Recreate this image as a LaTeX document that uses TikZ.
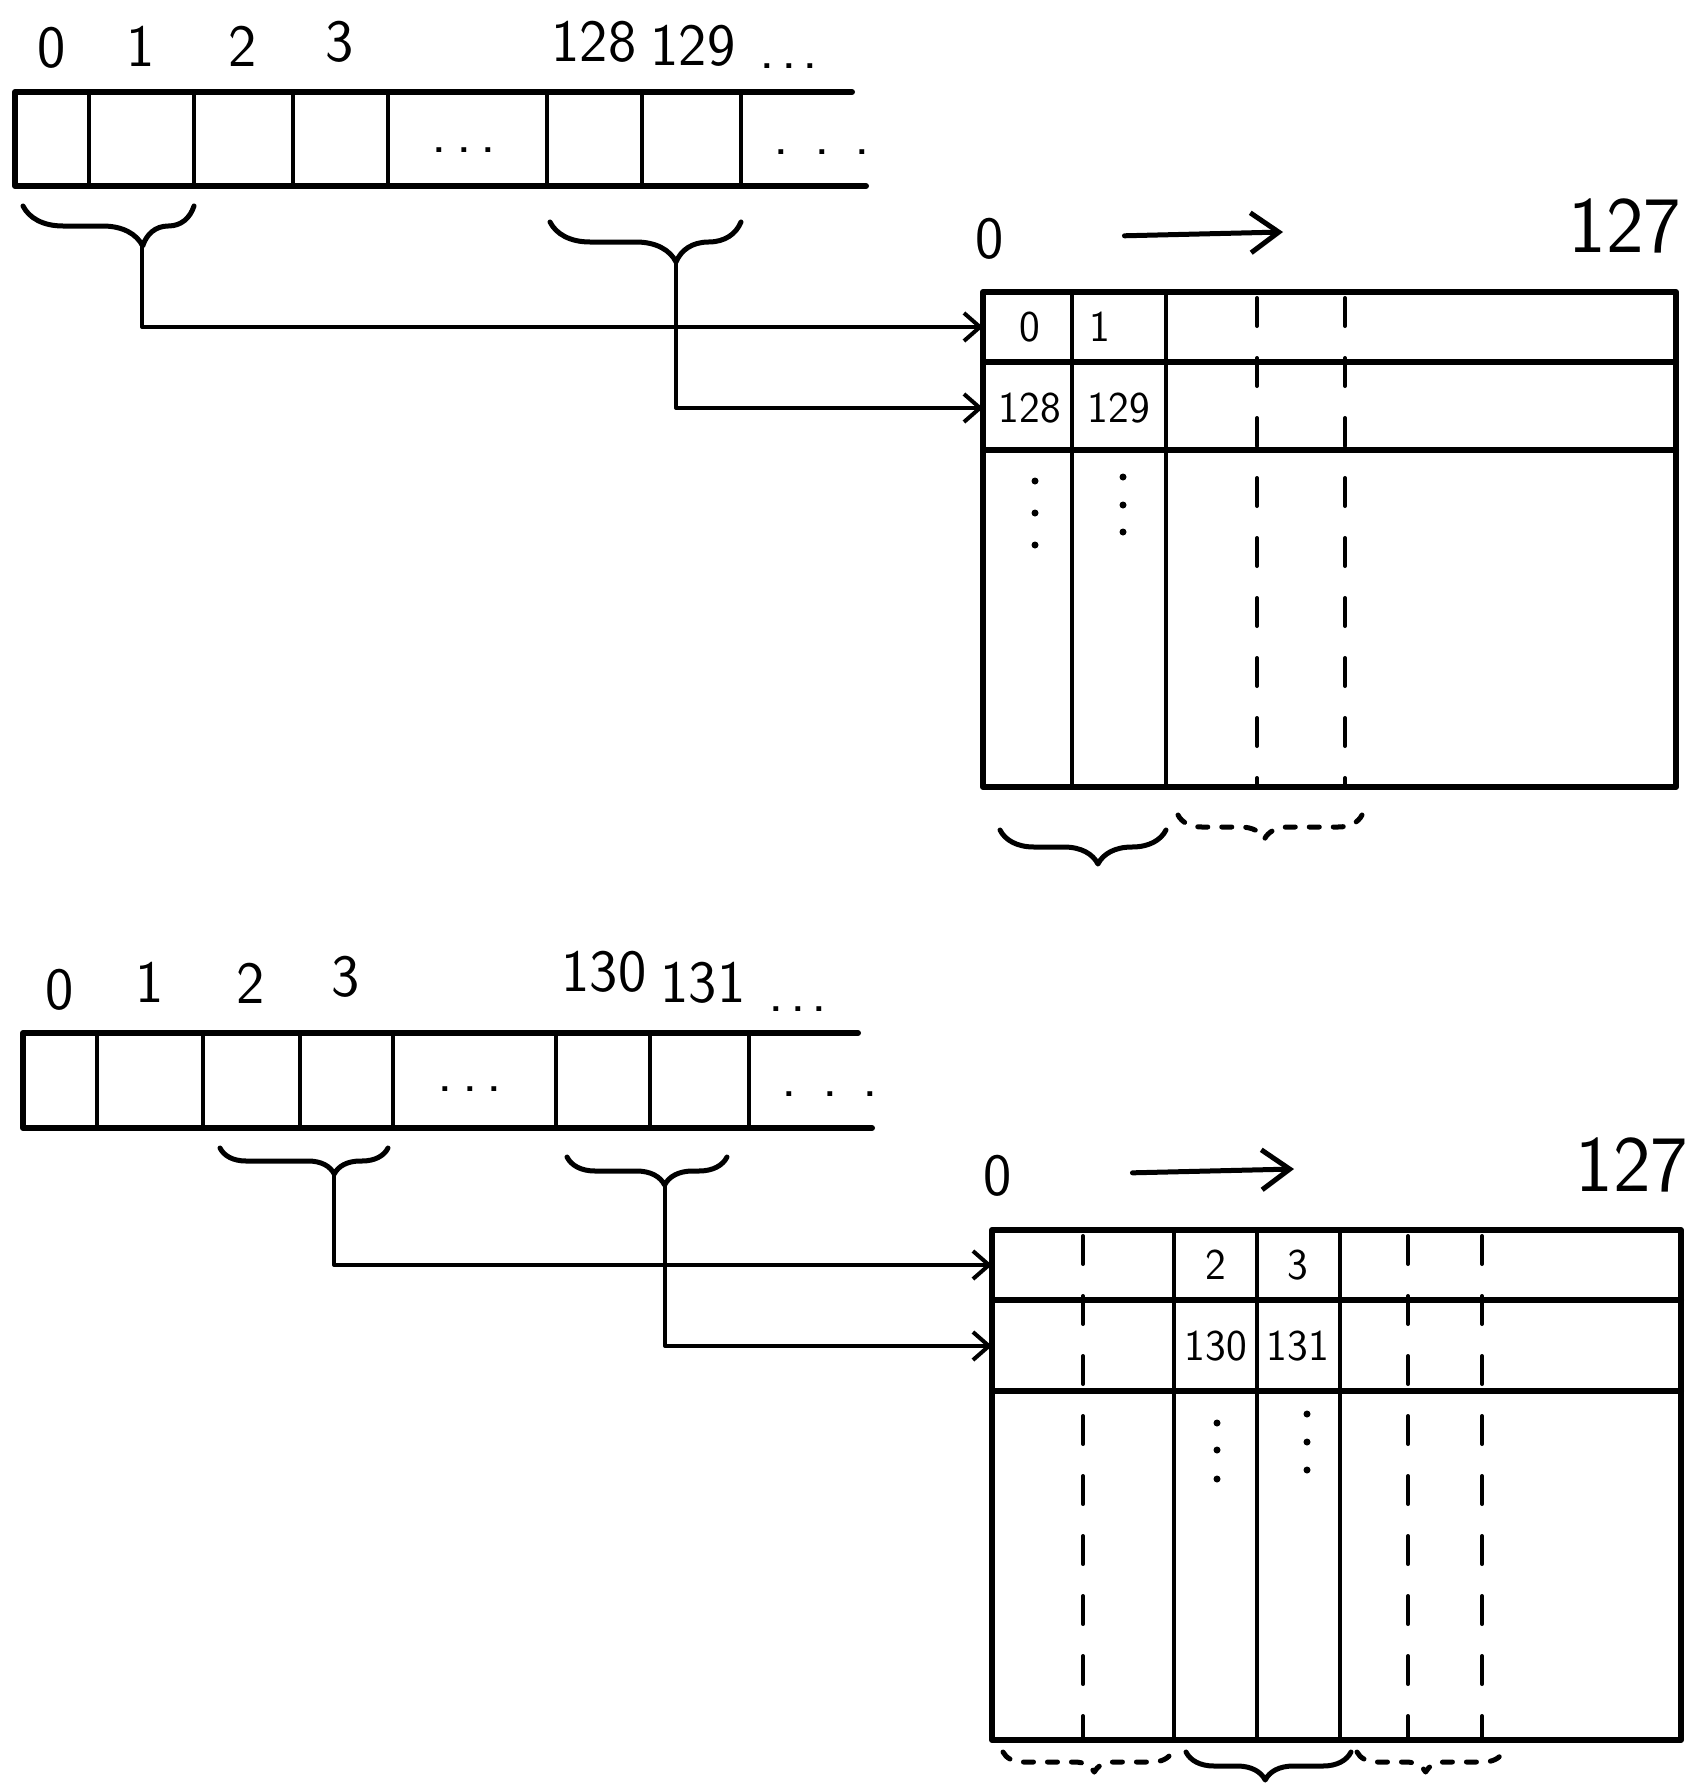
\documentclass[tikz,border=0pt]{standalone}
\usetikzlibrary{arrows.meta,decorations.pathreplacing}
\tikzset{
  frame/.style={line width=3pt},
  divider/.style={line width=2pt},
  rowline/.style={line width=3pt},
  dashcol/.style={line width=2pt, dash pattern=on 14pt off 16pt},
  link/.style={line width=2pt, -{Straight Barb[length=8pt,width=14pt,line width=2pt]}},
  flow/.style={line width=2.5pt, -{Straight Barb[length=14pt,width=20pt,line width=2.5pt]}},
  brc/.style 2 args={line width=2.5pt, decorate, decoration={brace, mirror, amplitude=#1, aspect=#2}},
  dashbrc/.style={dash pattern=on 5pt off 7pt},
  idx/.style={font=\sffamily\fontsize{30}{32}\selectfont, inner sep=0pt},
  cellnum/.style={font=\sffamily\fontsize{22}{24}\selectfont, inner sep=0pt},
  endnum/.style={font=\sffamily\fontsize{40}{42}\selectfont, inner sep=0pt},
}
% three spread dots, #1 = gap between them
\newcommand\spreaddots[1]{.\kern#1.\kern#1.}
\begin{document}
\begin{tikzpicture}[x=0.5pt, y=-0.5pt, line cap=round, line join=round]
% sketch measured in pixels, y going down
\def\dotr{3.5}
\useasboundingbox (0,0) rectangle (1702,1788);

% ---------- first strip of cells ----------
\draw[frame] (852,92) -- (15,92) -- (15,186) -- (866,186);
\draw[divider] (89,92) -- (89,186);
\draw[divider] (194,92) -- (194,186);
\draw[divider] (293,92) -- (293,186);
\draw[divider] (388,92) -- (388,186);
\draw[divider] (547,92) -- (547,186);
\draw[divider] (642,92) -- (642,186);
\draw[divider] (741,92) -- (741,186);
\node[idx] (a0) at (52,48) {0};
\node[idx] (a1) at (141,46) {1};
\node[idx] (a2) at (243,46) {2};
\node[idx] (a3) at (340,42) {3};
\node[idx] (a128) at (594,42) {128};
\node[idx] (a129) at (693,46) {129};
\node[idx] (amore) at (789,66) {\spreaddots{3pt}};
\node[idx] (amid) at (464,150) {\spreaddots{4.5pt}};
\node[idx] (aend) at (822,152) {\spreaddots{12.5pt}};
% braces under the strip
\draw[brc={20pt}{0.7}] (23,206) -- (194,206);
\draw[brc={20pt}{0.66}] (550,222) -- (741,222);
\coordinate (tipA) at (142,246);
\coordinate (tipB) at (676,262);

% ---------- first table ----------
\node[idx] (z1) at (990,239) {0};
\coordinate (d1) at (1283,232);
\node[endnum] (n1) at (1625,226) {127};
\draw[flow, shorten <=60pt] (z1) -- (d1);
\draw[frame] (983,292) rectangle (1676,787);
\draw[rowline] (983,362) -- (1676,362);
\draw[rowline] (983,450) -- (1676,450);
\draw[divider] (1072,292) -- (1072,787);
\draw[divider] (1166,292) -- (1166,787);
\draw[dashcol] (1257,298) -- (1257,787);
\draw[dashcol] (1345,298) -- (1345,787);
\node[cellnum] (c0) at (1030,327) {0};
\node[cellnum] (c1) at (1100,327) {1};
\node[cellnum] (c128) at (1030,408) {128};
\node[cellnum] (c129) at (1119,408) {129};
\fill (1035,481) circle (\dotr);
\fill (1035,513) circle (\dotr);
\fill (1035,545) circle (\dotr);
\fill (1123,477) circle (\dotr);
\fill (1123,505) circle (\dotr);
\fill (1123,532) circle (\dotr);
\coordinate (t1r0) at (983,327);
\coordinate (t1r1) at (983,408);
% braces under the first table
\draw[brc={17pt}{0.59}] (1000,830) -- (1166,830);
\draw[brc={12pt}{0.47}, dashbrc] (1178,815) -- (1362,815);

% strip to table
\draw[link] (tipA) |- (t1r0);
\draw[link] (tipB) |- (t1r1);

% ---------- second strip of cells ----------
\draw[frame] (858,1033) -- (23,1033) -- (23,1128) -- (872,1128);
\draw[divider] (97,1033) -- (97,1128);
\draw[divider] (203,1033) -- (203,1128);
\draw[divider] (300,1033) -- (300,1128);
\draw[divider] (393,1033) -- (393,1128);
\draw[divider] (556,1033) -- (556,1128);
\draw[divider] (650,1033) -- (650,1128);
\draw[divider] (749,1033) -- (749,1128);
\node[idx] (b0) at (60,990) {0};
\node[idx] (b1) at (150,982) {1};
\node[idx] (b2) at (251,983) {2};
\node[idx] (b3) at (346,977) {3};
\node[idx] (b130) at (604,972) {130};
\node[idx] (b131) at (703,983) {131};
\node[idx] (bmore) at (798,1009) {\spreaddots{3pt}};
\node[idx] (bmid) at (470,1089) {\spreaddots{4.5pt}};
\node[idx] (bend) at (830,1094) {\spreaddots{12.5pt}};
% braces under the strip
\draw[brc={13pt}{0.68}] (220,1148) -- (388,1148);
\draw[brc={14pt}{0.61}] (567,1157) -- (727,1157);
\coordinate (tipC) at (334,1174);
\coordinate (tipD) at (665,1185);

% ---------- second table ----------
\node[idx] (z2) at (998,1176) {0};
\coordinate (d2) at (1294,1169);
\node[endnum] (n2) at (1632,1165) {127};
\draw[flow, shorten <=60pt] (z2) -- (d2);
\draw[frame] (992,1230) rectangle (1681,1740);
\draw[rowline] (992,1300) -- (1681,1300);
\draw[rowline] (992,1391) -- (1681,1391);
\draw[divider] (1174,1230) -- (1174,1740);
\draw[divider] (1257,1230) -- (1257,1740);
\draw[divider] (1340,1230) -- (1340,1740);
\draw[dashcol] (1083,1236) -- (1083,1740);
\draw[dashcol] (1408,1236) -- (1408,1740);
\draw[dashcol] (1482,1236) -- (1482,1740);
\node[cellnum] (c2) at (1216,1265) {2};
\node[cellnum] (c3) at (1298,1265) {3};
\node[cellnum] (c130) at (1216,1346) {130};
\node[cellnum] (c131) at (1298,1346) {131};
\fill (1217,1423) circle (\dotr);
\fill (1217,1450) circle (\dotr);
\fill (1217,1479) circle (\dotr);
\fill (1307,1414) circle (\dotr);
\fill (1307,1442) circle (\dotr);
\fill (1307,1470) circle (\dotr);
\coordinate (t2r0) at (992,1265);
\coordinate (t2r1) at (992,1346);
% braces under the second table
\draw[brc={10pt}{0.54}, dashbrc] (1003,1752) -- (1172,1752);
\draw[brc={14pt}{0.48}] (1186,1752) -- (1351,1752);
\draw[brc={10pt}{0.47}, dashbrc] (1357,1752) -- (1503,1752);

% strip to table
\draw[link] (tipC) |- (t2r0);
\draw[link] (tipD) |- (t2r1);
\end{tikzpicture}
\end{document}
